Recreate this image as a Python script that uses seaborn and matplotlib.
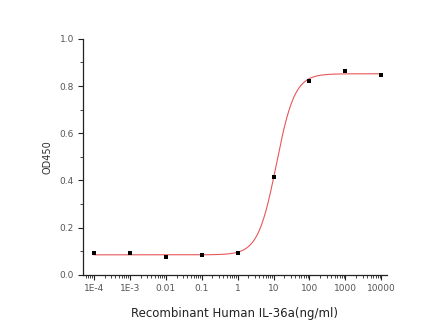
import numpy as np
import pandas as pd
import matplotlib
matplotlib.use("Agg")
import matplotlib.pyplot as plt
import seaborn as sns
from matplotlib.ticker import FixedLocator, MultipleLocator, LogLocator, NullFormatter

# Data
concentration = [1e-4, 1e-3, 1e-2, 1e-1, 1, 10, 100, 1000, 10000]
od450 = [0.093, 0.092, 0.077, 0.083, 0.093, 0.415, 0.820, 0.862, 0.848]
xtick_labels = ["1E-4", "1E-3", "0.01", "0.1", "1", "10", "100", "1000", "10000"]

# 4-parameter logistic fit parameters (estimated from curve)
fit_bottom = 0.085
fit_top = 0.852
fit_ec50 = 12.0
fit_hill = 1.7

sns.set_theme(style="ticks")
plt.rcParams['font.family'] = ['DejaVu Sans']

fig = plt.figure(figsize=(4.44, 3.32), dpi=100)
ax = fig.add_axes([0.187, 0.172, 0.684, 0.711])

xfit = np.logspace(-4, 4, 400)
yfit = fit_bottom + (fit_top - fit_bottom) / (1 + (fit_ec50 / xfit) ** fit_hill)
fit_df = pd.DataFrame({"x": xfit, "y": yfit})
pts = pd.DataFrame({"x": concentration, "y": od450})

sns.lineplot(data=fit_df, x="x", y="y", ax=ax, color="#e8575a", linewidth=0.8)
sns.scatterplot(data=pts, x="x", y="y", ax=ax, marker="s", color="black", s=11,
                edgecolor="black", linewidth=0, zorder=3)

ax.set_xscale("log")
ax.set_xlim(10 ** -4.3, 10 ** 4.15)
ax.set_ylim(0, 1.0)
ax.xaxis.set_major_locator(FixedLocator(concentration))
ax.set_xticklabels(xtick_labels)
ax.xaxis.set_minor_locator(LogLocator(base=10, subs=np.arange(2, 10), numticks=20))
ax.xaxis.set_minor_formatter(NullFormatter())
ax.yaxis.set_major_locator(MultipleLocator(0.2))
ax.yaxis.set_minor_locator(MultipleLocator(0.1))
ax.set_yticks([0, 0.2, 0.4, 0.6, 0.8, 1.0])
ax.set_yticklabels(["0.0", "0.2", "0.4", "0.6", "0.8", "1.0"])

ax.tick_params(axis="both", which="major", labelsize=6.5, length=3.5, width=0.8,
               colors="#222222", labelcolor="#555555", pad=3)
ax.tick_params(axis="both", which="minor", length=2, width=0.6, colors="#222222")
for s in ["left", "bottom"]:
    ax.spines[s].set_linewidth(0.9)
    ax.spines[s].set_color("#222222")
sns.despine(ax=ax)

ax.set_xlabel("Recombinant Human IL-36a(ng/ml)", fontsize=8.5, color="#222222", labelpad=10)
ax.set_ylabel("OD450", fontsize=7, color="#333333", labelpad=5)

fig.savefig("out.png", dpi=100, facecolor="white")
